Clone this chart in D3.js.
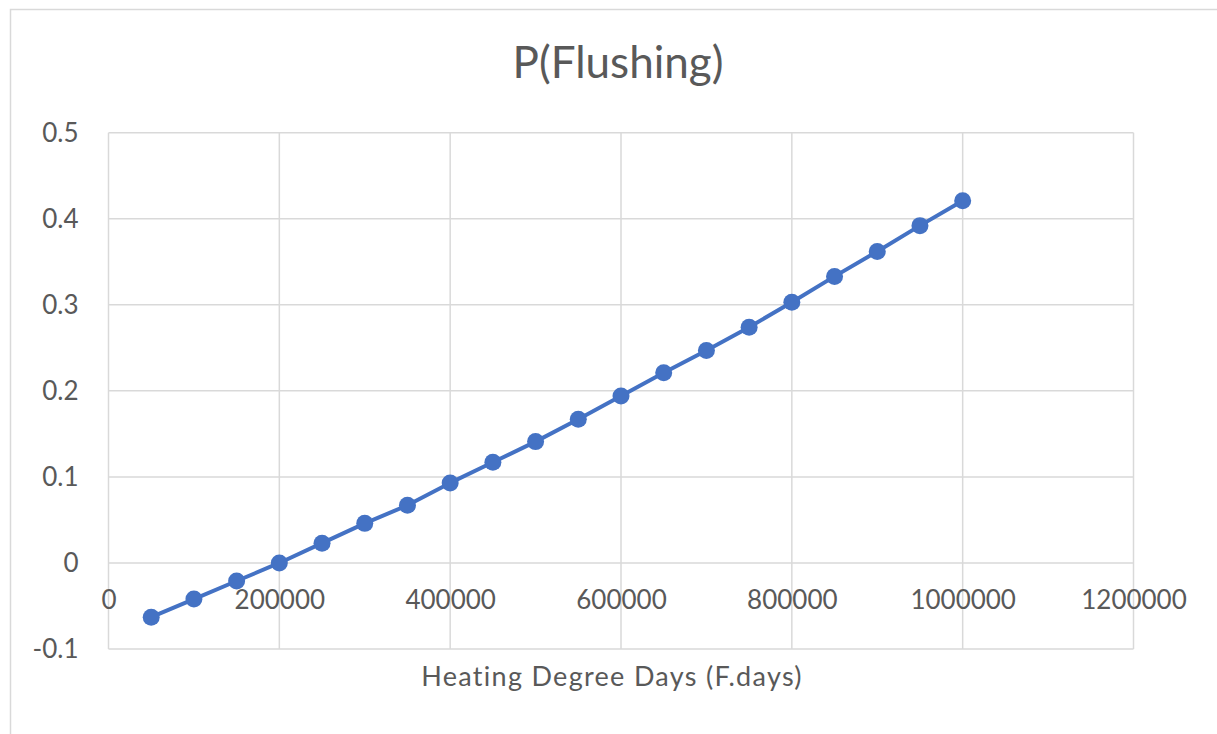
<!DOCTYPE html>
<html>
<head>
<meta charset="utf-8">
<script src="https://cdn.jsdelivr.net/npm/d3@7"></script>
<style>
  html, body { margin: 0; padding: 0; background: #ffffff; }
  svg { display: block; }
</style>
</head>
<body>
<svg id="chart" width="1217" height="734"></svg>
<script>
// ---- data ----
const chartTitle = "P(Flushing)";
const xAxisTitle = "Heating Degree Days (F.days)";
const hddValues = [50000, 100000, 150000, 200000, 250000, 300000, 350000, 400000, 450000, 500000,
                   550000, 600000, 650000, 700000, 750000, 800000, 850000, 900000, 950000, 1000000];
const pFlushing = [-0.063, -0.042, -0.021, 0.000, 0.023, 0.046, 0.067, 0.093, 0.117, 0.141,
                   0.167, 0.194, 0.221, 0.247, 0.274, 0.303, 0.333, 0.362, 0.392, 0.421];
const xTicks = [0, 200000, 400000, 600000, 800000, 1000000, 1200000];
const yTicks = [-0.1, 0, 0.1, 0.2, 0.3, 0.4, 0.5];

// ---- layout ----
const svg = d3.select("#chart");
const font = "Lato, 'Open Sans', sans-serif";
const textColor = "#595959";
const gridColor = "#d9d9d9";
const seriesColor = "#4472c4";

const x = d3.scaleLinear().domain([0, 1200000]).range([108.5, 1133.5]);
const y = d3.scaleLinear().domain([-0.1, 0.5]).range([649, 132.7]);

// outer chart border
svg.append("rect")
  .attr("x", 10.5).attr("y", 9.5)
  .attr("width", 1230).attr("height", 740)
  .attr("fill", "#fff").attr("stroke", gridColor).attr("stroke-width", 1.5);

// gridlines
svg.append("g").selectAll("line.h").data(yTicks).join("line")
  .attr("x1", x(0)).attr("x2", x(1200000))
  .attr("y1", d => y(d)).attr("y2", d => y(d))
  .attr("stroke", gridColor).attr("stroke-width", 1.5);
svg.append("g").selectAll("line.v").data(xTicks).join("line")
  .attr("x1", d => x(d)).attr("x2", d => x(d))
  .attr("y1", y(0.5)).attr("y2", y(-0.1))
  .attr("stroke", gridColor).attr("stroke-width", 1.5);

// y axis labels
const yAxis = d3.axisLeft(y).tickValues(yTicks).tickSize(0).tickPadding(30)
  .tickFormat(d => String(+d.toFixed(1)));
const gy = svg.append("g").attr("transform", `translate(${x(0)},0)`).call(yAxis);
gy.select(".domain").remove();
gy.selectAll("text").attr("font-family", font).attr("font-size", 26).attr("fill", textColor);

// x axis labels (axis crosses at y = 0)
const xAxis = d3.axisBottom(x).tickValues(xTicks).tickSize(0).tickPadding(28)
  .tickFormat(d => String(d));
const gx = svg.append("g").attr("transform", `translate(0,${y(0)})`).call(xAxis);
gx.select(".domain").remove();
gx.selectAll("text").attr("font-family", font).attr("font-size", 26).attr("fill", textColor);

// series line
const data = hddValues.map((v, i) => ({x: v, y: pFlushing[i]}));
svg.append("path").datum(data)
  .attr("fill", "none").attr("stroke", seriesColor).attr("stroke-width", 4)
  .attr("stroke-linejoin", "round")
  .attr("d", d3.line().x(d => x(d.x)).y(d => y(d.y)));

svg.append("g").selectAll("circle").data(data).join("circle")
  .attr("cx", d => x(d.x)).attr("cy", d => y(d.y)).attr("r", 8.5)
  .attr("fill", seriesColor);

// title
svg.append("text").attr("x", 618).attr("y", 78).attr("text-anchor", "middle")
  .attr("font-family", font).attr("font-size", 44).attr("fill", textColor)
  .text(chartTitle);

// x axis title
svg.append("text").attr("x", 612).attr("y", 686).attr("text-anchor", "middle")
  .attr("font-family", font).attr("font-size", 27).attr("letter-spacing", 1.3)
  .attr("fill", textColor)
  .text(xAxisTitle);
</script>
</body>
</html>
